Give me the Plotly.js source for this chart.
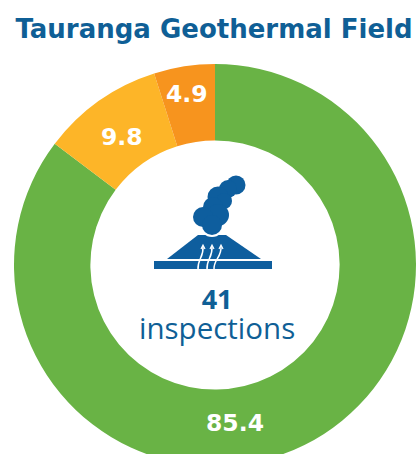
<!DOCTYPE html>
<html>
<head>
<meta charset="utf-8">
<script src="https://cdn.plot.ly/plotly-3.0.1.min.js"></script>
<style>html,body{margin:0;padding:0;background:#fff;overflow:hidden;width:417px;height:454px}#c{width:417px;height:466px}</style>
</head>
<body>
<div id="c"></div>
<script>
const categories = ["Green", "Yellow", "Orange"];
const values = [85.4, 9.8, 4.9];
const colors = ["#69B345", "#FDB528", "#F7941E"];
const labelPositions = [[235, 423], [122, 137], [187, 94]];
const titleText = "Tauranga Geothermal Field";
const inspections = 41;
const inspectionsLabel = "inspections";

const W = 417, H = 466;
const px = x => x / W, py = y => 1 - y / H;
const BLUE = "#0E5E9E", TEXT = "#0F5F96";
const WIDE = "DejaVu Sans, sans-serif", FONT = "Open Sans, sans-serif";

const circle = (cx, cy, r, col) => ({type: "circle", xref: "paper", yref: "paper",
  x0: px(cx - r), x1: px(cx + r), y0: py(cy + r), y1: py(cy - r),
  fillcolor: col, line: {width: 0}, layer: "above"});
const path = (pts, fill, stroke, w) => ({type: "path", xref: "paper", yref: "paper",
  path: pts.map(s => typeof s === "string" ? s : px(s[0]) + "," + py(s[1])).join(" ").replace(/([MLCZ]) /g, "$1"),
  fillcolor: fill || "rgba(0,0,0,0)", line: {color: stroke || "rgba(0,0,0,0)", width: w || 0}, layer: "above"});

const shapes = [
  path(["M", [167, 259], "L", [198, 235], "L", [226, 235], "L", [261, 259], "Z"], BLUE),
  path(["M", [154, 261], "L", [272, 261], "L", [272, 269], "L", [154, 269], "Z"], BLUE),
  circle(212, 225, 12, "#ffffff"),
  circle(236, 185, 9.5, BLUE),
  circle(228, 189, 9, BLUE),
  circle(218, 197, 10.5, BLUE),
  circle(224, 201, 8, BLUE),
  circle(213, 207, 10, BLUE),
  circle(218, 215, 11, BLUE),
  circle(203, 217, 10, BLUE),
  circle(212, 225, 10, BLUE)
];
[[198, 203], [207, 212], [214, 221]].forEach(([a, b]) => {
  shapes.push(path(["M", [a, 270], "C", [a - 1, 259], [b + 1, 258], [b, 246]], null, "#ffffff", 1.5));
  shapes.push(path(["M", [b - 2, 249], "L", [b, 245], "L", [b + 2, 249]], null, "#ffffff", 1.2));
});

const annotations = values.map((v, i) => ({
  xref: "paper", yref: "paper", x: px(labelPositions[i][0]), y: py(labelPositions[i][1]),
  text: "<b>" + v + "</b>", showarrow: false, xanchor: "center", yanchor: "middle",
  font: {family: WIDE, size: 23.5, color: "#ffffff"}
}));
annotations.push({xref: "paper", yref: "paper", x: px(217), y: py(313.5),
  text: "<b style='font-size:27px'>" + inspections + "</b><br><span style='font-size:29.5px'>" + inspectionsLabel + "</span>",
  showarrow: false, xanchor: "center", yanchor: "middle", align: "center",
  font: {family: FONT, size: 23, color: TEXT}});

Plotly.newPlot("c", [{
  type: "pie", labels: categories, values: values, sort: false, direction: "clockwise", rotation: 0,
  hole: 0.62, marker: {colors: colors, line: {width: 0}}, textinfo: "none", hoverinfo: "none",
  domain: {x: [14 / W, 416 / W], y: [0, 402 / H]}
}], {
  width: W, height: H, margin: {l: 0, r: 0, t: 0, b: 0}, showlegend: false,
  paper_bgcolor: "#ffffff",
  title: {text: "<b>" + titleText + "</b>", xref: "paper", yref: "paper", x: 214 / W, xanchor: "center",
    y: py(29), yanchor: "middle", font: {family: WIDE, size: 26, color: TEXT}},
  shapes: shapes, annotations: annotations
}, {staticPlot: true, displayModeBar: false});
</script>
</body>
</html>
